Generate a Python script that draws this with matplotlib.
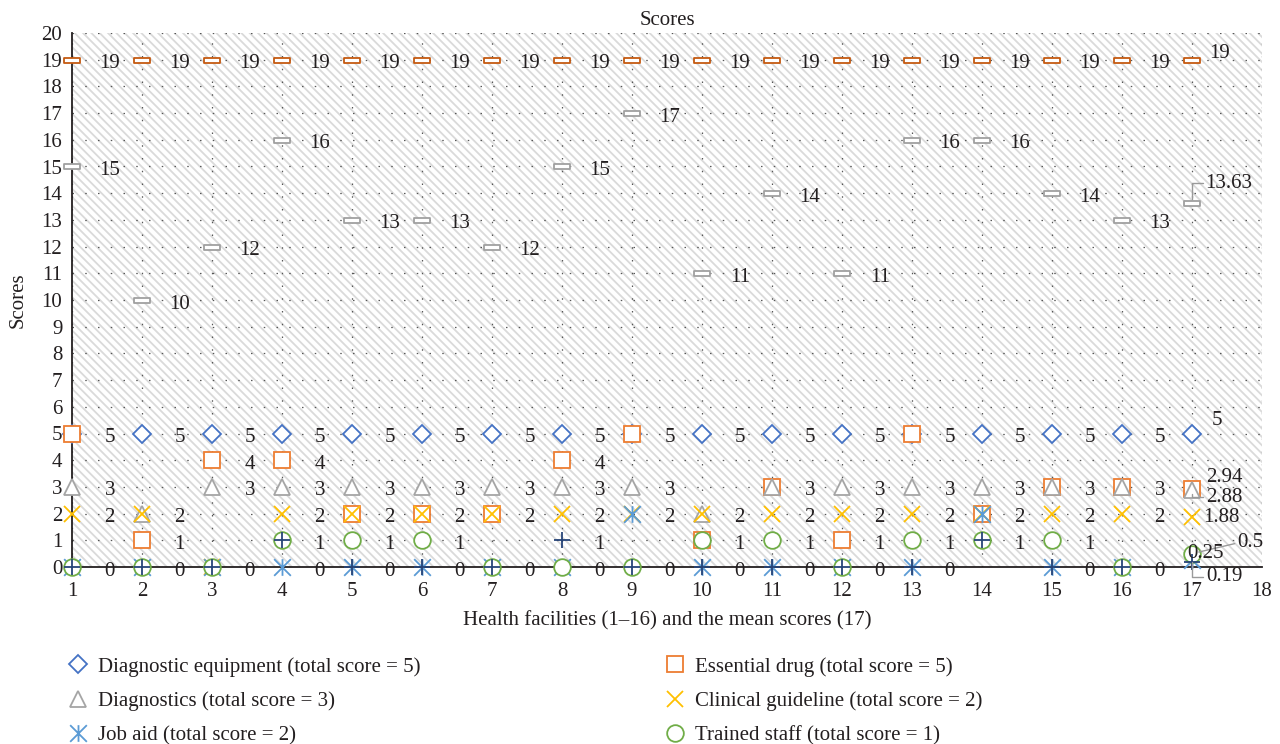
import matplotlib
matplotlib.use('Agg')
import matplotlib.pyplot as plt
from matplotlib.path import Path
from matplotlib.patches import Rectangle

plt.rcParams['font.family'] = ['Liberation Serif', 'DejaVu Serif']
plt.rcParams['hatch.linewidth'] = 1.3

# data: facilities 1-16, 17 = mean scores
facilities = list(range(1, 18))
diag_equipment = [5, 5, 5, 5, 5, 5, 5, 5, 5, 5, 5, 5, 5, 5, 5, 5, 5]
essential_drug = [5, 1, 4, 4, 2, 2, 2, 4, 5, 1, 3, 1, 5, 2, 3, 3, 2.94]
diagnostics = [3, 2, 3, 3, 3, 3, 3, 3, 3, 2, 3, 3, 3, 3, 3, 3, 2.88]
clinical_guideline = [2, 2, 0, 2, 2, 2, 2, 2, 2, 2, 2, 2, 2, 2, 2, 2, 1.88]
job_aid = [0, 0, 0, 0, 0, 0, 0, 0, 2, 0, 0, 0, 0, 2, 0, 0, 0.25]
trained_staff = [0, 0, 0, 1, 1, 1, 0, 0, 0, 1, 1, 0, 1, 1, 1, 0, 0.5]
other_item = [0, 0, 0, 1, 0, 0, 0, 1, 0, 0, 0, 0, 0, 1, 0, 0, 0.19]
total_score = [15, 10, 12, 16, 13, 13, 12, 15, 17, 11, 14, 11, 16, 16, 14, 13, 13.63]
max_score = [19] * 17

labels = ['Diagnostic equipment (total score = 5)',
          'Essential drug (total score = 5)',
          'Diagnostics (total score = 3)',
          'Clinical guideline (total score = 2)',
          'Job aid (total score = 2)',
          'Trained staff (total score = 1)']

# custom markers
asterisk = Path([(0, -1), (0, 1), (-1, -1), (1, 1), (-1, 1), (1, -1)],
                [Path.MOVETO, Path.LINETO, Path.MOVETO, Path.LINETO, Path.MOVETO, Path.LINETO])
flat_rect = Path([(-1, -0.3), (1, -0.3), (1, 0.3), (-1, 0.3), (-1, -0.3)],
                 [Path.MOVETO, Path.LINETO, Path.LINETO, Path.LINETO, Path.CLOSEPOLY])

fig = plt.figure(figsize=(12.8, 7.44), dpi=100)
ax = fig.add_axes([72/1280, 1-567/744, 1190/1280, 534/744])

# hatched background
ax.add_patch(Rectangle((0, 0), 1, 1, transform=ax.transAxes, facecolor='white',
                       edgecolor='#dadada', hatch='\\\\\\\\', linewidth=0, zorder=0))

fs = 15
ink = '#231f20'
kw = dict(linestyle='none', markerfacecolor='white', markeredgewidth=1.3, clip_on=False, zorder=3)
h_de, = ax.plot(facilities, diag_equipment, marker='D', markersize=9.5, color='#4472C4', **kw)
h_ed, = ax.plot(facilities, essential_drug, marker='s', markersize=12, color='#ED7D31', **kw)
h_dx, = ax.plot(facilities, diagnostics, marker='^', markersize=12, color='#A5A5A5', **kw)
h_cg, = ax.plot(facilities, clinical_guideline, marker='x', markersize=12, color='#FFC000', **kw)
h_ja, = ax.plot(facilities, job_aid, marker=asterisk, markersize=12, color='#5B9BD5', **kw)
h_ts, = ax.plot(facilities, trained_staff, marker='o', markersize=12, color='#70AD47', **kw)
ax.plot(facilities, other_item, marker='+', markersize=12, color='#264478', **kw)
ax.plot(facilities, total_score, marker=flat_rect, markersize=12, color='#A0A0A0', **kw)
ax.plot(facilities, max_score, marker=flat_rect, markersize=12, color='#C55A11', **kw)

# value labels for facilities 1-16
for i in range(16):
    x = facilities[i]
    vals = {diag_equipment[i], essential_drug[i], diagnostics[i], clinical_guideline[i],
            job_aid[i], trained_staff[i], other_item[i], total_score[i], max_score[i]}
    for v in vals:
        ax.text(x + 0.54, v - 0.15, '%g' % v, ha='center', va='center', fontsize=fs,
                color=ink, zorder=4)

# labels for the mean column
j = 16
lead = dict(arrowstyle='-', color='#9a9a9a', lw=1, shrinkA=0, shrinkB=3)
tk = dict(fontsize=fs, color=ink, va='center', zorder=4, annotation_clip=False)
ax.annotate('%g' % max_score[j], xy=(17, max_score[j]), xytext=(17.4, 19.25), ha='center', **tk)
ax.annotate('%g' % total_score[j], xy=(17, total_score[j]), xytext=(17.19, 14.38), ha='left',
            arrowprops=dict(lead, relpos=(0, 0.5), connectionstyle='angle,angleA=180,angleB=90,rad=0'), **tk)
ax.annotate('%g' % diag_equipment[j], xy=(17, diag_equipment[j]), xytext=(17.36, 5.5), ha='center', **tk)
ax.annotate('%g' % essential_drug[j], xy=(17, essential_drug[j]), xytext=(17.2, 3.37), ha='left', **tk)
ax.annotate('%g' % diagnostics[j], xy=(17, diagnostics[j]), xytext=(17.2, 2.62), ha='left',
            arrowprops=dict(lead, relpos=(0, 0.5), connectionstyle='angle,angleA=180,angleB=90,rad=0'), **tk)
ax.annotate('%g' % clinical_guideline[j], xy=(17, clinical_guideline[j]), xytext=(17.16, 1.84), ha='left', **tk)
ax.annotate('%g' % trained_staff[j], xy=(17, trained_staff[j]), xytext=(17.65, 0.9), ha='left',
            arrowprops=dict(lead, relpos=(0, 0.5), shrinkB=5), **tk)
ax.annotate('%g' % job_aid[j], xy=(17, job_aid[j]), xytext=(17.19, 0.52), ha='center', **tk)
ax.annotate('%g' % other_item[j], xy=(17, other_item[j]), xytext=(17.2, -0.37), ha='left',
            arrowprops=dict(lead, relpos=(0, 0.5), connectionstyle='angle,angleA=180,angleB=90,rad=0', shrinkB=0), **tk)

ax.set_xlim(1, 18)
ax.set_ylim(0, 20)
ax.set_xticks(range(1, 19))
ax.set_yticks(range(0, 21))
ax.tick_params(length=0, labelsize=fs, colors=ink)
ax.tick_params(axis='x', pad=11)
ax.tick_params(axis='y', pad=7)
ax.grid(True, color='#555555', linestyle=(0, (1.2, 9)), linewidth=0.9)
ax.set_axisbelow(True)
for s in ['top', 'right']:
    ax.spines[s].set_visible(False)
for s in ['left', 'bottom']:
    ax.spines[s].set_linewidth(1.3)
    ax.spines[s].set_color(ink)

ax.set_title('Scores', fontsize=fs, color=ink, pad=6)
ax.set_ylabel('Scores', fontsize=fs, color=ink, labelpad=10)
ax.set_xlabel('Health facilities (1–16) and the mean scores (17)', fontsize=fs, color=ink, labelpad=7)

lg = dict(loc='upper left', frameon=False, borderpad=0, borderaxespad=0, handlelength=1.0,
          handletextpad=0.45, labelspacing=0.7, fontsize=fs, numpoints=1, labelcolor=ink)
fig.legend([h_de, h_dx, h_ja], [labels[0], labels[2], labels[4]], bbox_to_anchor=(68/1280, 1-657/744), **lg)
fig.legend([h_ed, h_cg, h_ts], [labels[1], labels[3], labels[5]], bbox_to_anchor=(665/1280, 1-657/744), **lg)

fig.savefig('out.png', dpi=100)
